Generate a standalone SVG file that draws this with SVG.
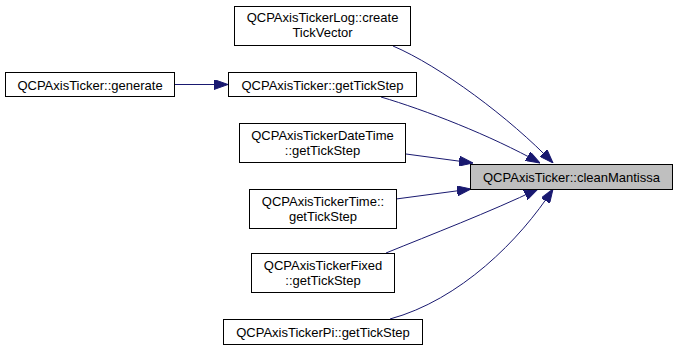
<svg xmlns="http://www.w3.org/2000/svg" width="679" height="351" viewBox="0 0 679 351">
  <style>
    .node rect { fill: #ffffff; stroke: #000000; stroke-width: 1; }
    .node.hl rect { fill: #bfbfbf; }
    .node text { font-family: "Liberation Sans", Arial, sans-serif; font-size: 13px; fill: #000000; text-anchor: middle; }
    .edge { fill: none; stroke: #191970; stroke-width: 1; }
  </style>
  <defs>
    <marker id="arrow" viewBox="0 0 14 10" refX="14" refY="5" markerWidth="14" markerHeight="10" markerUnits="userSpaceOnUse" orient="auto">
      <path d="M0,0 L14,5 L0,10 Z" fill="#191970" stroke="#191970"/>
    </marker>
  </defs>

  <g id="connectors">
    <path class="edge" marker-end="url(#arrow)" d="M175,84.5 L228,84.5"/>
    <path class="edge" marker-end="url(#arrow)" d="M393,46 C440,66 510,118 553,163"/>
    <path class="edge" marker-end="url(#arrow)" d="M381,97 C425,110 490,135 540,163"/>
    <path class="edge" marker-end="url(#arrow)" d="M406,154 L473,163"/>
    <path class="edge" marker-end="url(#arrow)" d="M396,199 L471,189"/>
    <path class="edge" marker-end="url(#arrow)" d="M386,253 C430,235 490,212 538,189"/>
    <path class="edge" marker-end="url(#arrow)" d="M390,319 C460,300 520,240 553,189"/>
  </g>

  <g id="cleanMantissa" class="node hl">
    <rect x="470.5" y="164.5" width="202" height="25"/>
    <text x="571.5" y="181.5">QCPAxisTicker::cleanMantissa</text>
  </g>
  <g id="generate" class="node">
    <rect x="5.5" y="72.5" width="169" height="24"/>
    <text x="90" y="89.5">QCPAxisTicker::generate</text>
  </g>
  <g id="getTickStep" class="node">
    <rect x="228.5" y="72.5" width="188" height="24"/>
    <text x="322.5" y="89.5">QCPAxisTicker::getTickStep</text>
  </g>
  <g id="createTickVector" class="node">
    <rect x="234.5" y="6.5" width="176" height="39"/>
    <text x="322.5" y="22">QCPAxisTickerLog::create</text>
    <text x="322.5" y="37">TickVector</text>
  </g>
  <g id="dateTimeTickStep" class="node">
    <rect x="239.5" y="123.5" width="166" height="39"/>
    <text x="322.5" y="139.5">QCPAxisTickerDateTime</text>
    <text x="322.5" y="154.5">::getTickStep</text>
  </g>
  <g id="timeTickStep" class="node">
    <rect x="249.5" y="189.5" width="147" height="39"/>
    <text x="323" y="205.5">QCPAxisTickerTime::</text>
    <text x="323" y="220.5">getTickStep</text>
  </g>
  <g id="fixedTickStep" class="node">
    <rect x="251.5" y="253.5" width="143" height="39"/>
    <text x="323" y="269.5">QCPAxisTickerFixed</text>
    <text x="323" y="284.5">::getTickStep</text>
  </g>
  <g id="piTickStep" class="node">
    <rect x="223.5" y="319.5" width="199" height="25"/>
    <text x="323" y="336.5">QCPAxisTickerPi::getTickStep</text>
  </g>
</svg>
